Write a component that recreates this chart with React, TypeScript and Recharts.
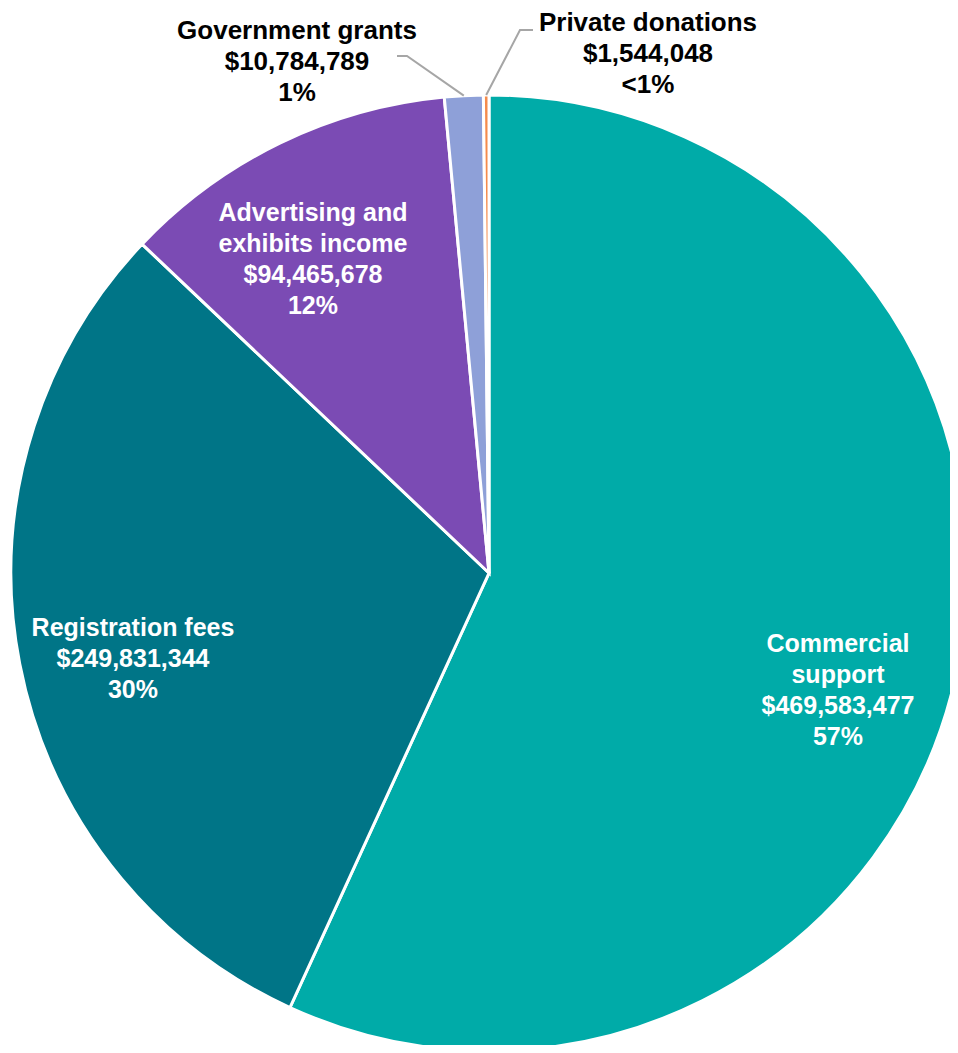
import { PieChart, Pie, Cell } from "recharts";

const CATEGORIES = [
  "Commercial support",
  "Registration fees",
  "Advertising and exhibits income",
  "Government grants",
  "Private donations",
];
const VALUES = [469583477, 249831344, 94465678, 10784789, 1544048];
const PERCENT_LABELS = ["57%", "30%", "12%", "1%", "<1%"];
const NAME_LINES = [
  ["Commercial", "support"],
  ["Registration fees"],
  ["Advertising and", "exhibits income"],
  ["Government grants"],
  ["Private donations"],
];
const COLORS = ["#00ABA8", "#007587", "#7B4BB4", "#8EA0D8", "#F58B4C"];

// label placement relative to the pie centre (layout only)
const LABEL_OFFSETS = [
  { dx: 349, dy: 116, fill: "#ffffff", size: 25 },
  { dx: -356, dy: 85, fill: "#ffffff", size: 25 },
  { dx: -176, dy: -315, fill: "#ffffff", size: 25 },
  { dx: -192, dy: -512, fill: "#000000", size: 26, elbow: { dx: -82, dy: -517 }, end: -92 },
  { dx: 159, dy: -520, fill: "#000000", size: 26, elbow: { dx: 31, dy: -543 }, end: 44 },
];

const data = CATEGORIES.map((name, i) => ({ name, value: VALUES[i] }));

const RAD = Math.PI / 180;
const LINE_H = 31;

function renderLabel(props: any) {
  const { cx, cy, midAngle, outerRadius, index } = props;
  const lay = LABEL_OFFSETS[index];
  const lines = [
    ...NAME_LINES[index],
    "$" + VALUES[index].toLocaleString("en-US"),
    PERCENT_LABELS[index],
  ];
  const x = cx + lay.dx;
  const y0 = cy + lay.dy - ((lines.length - 1) * LINE_H) / 2;
  let leader = null;
  if (lay.elbow) {
    const sx = cx + outerRadius * Math.cos(-midAngle * RAD);
    const sy = cy + outerRadius * Math.sin(-midAngle * RAD);
    const ex = cx + lay.elbow.dx;
    const ey = cy + lay.elbow.dy;
    leader = (
      <polyline
        points={`${sx},${sy} ${ex},${ey} ${cx + lay.end},${ey}`}
        fill="none"
        stroke="#A6A6A6"
        strokeWidth={2}
      />
    );
  }
  return (
    <g key={`lab-${index}`}>
      {leader}
      <text
        x={x}
        y={y0}
        textAnchor="middle"
        fill={lay.fill}
        fontFamily="'Liberation Sans', Arial, sans-serif"
        fontWeight="bold"
        fontSize={lay.size}
      >
        {lines.map((l, i) => (
          <tspan key={i} x={x} y={y0 + i * LINE_H} dominantBaseline="central">
            {l}
          </tspan>
        ))}
      </text>
    </g>
  );
}

export default function App() {
  return (
    <div style={{ width: 958, height: 1053, overflow: "hidden", margin: -8 }}>
      <PieChart width={958} height={1053} margin={{ top: 0, right: 0, bottom: 0, left: 0 }}>
        <Pie
          data={data}
          dataKey="value"
          nameKey="name"
          cx={489}
          cy={573}
          outerRadius={478}
          startAngle={90}
          endAngle={-270}
          stroke="#ffffff"
          strokeWidth={3}
          label={renderLabel}
          labelLine={false}
          isAnimationActive={false}
        >
          {data.map((d, i) => (
            <Cell key={d.name} fill={COLORS[i]} />
          ))}
        </Pie>
      </PieChart>
    </div>
  );
}
